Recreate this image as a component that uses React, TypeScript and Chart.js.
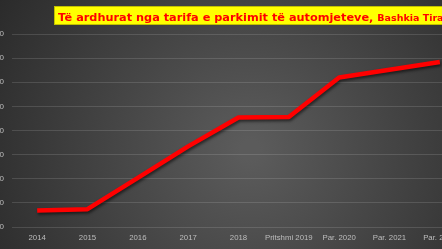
import React, { useEffect, useRef } from "react";
import { Chart, registerables } from "chart.js";

Chart.register(...registerables);

const categories = ["2014", "2015", "2016", "2017", "2018", "Pritshmi 2019", "Par. 2020", "Par. 2021", "Par. 2022"];
const revenue = [34, 37, 102, 167, 227, 228, 310, 326, 342];
const yMin = 0;
const yMax = 400;
const yStep = 50;
const titleMain = "Të ardhurat nga tarifa e parkimit të automjeteve, ";
const titleSub = "Bashkia Tirana";

const SHIFT = 40; // canvas is shifted left so the axis labels are cut off like the reference
const CW = 520;
const CH = 249;

const bgPlugin = {
  id: "bg",
  beforeDraw(chart: any) {
    const ctx = chart.ctx;
    ctx.save();
    const cx = 250 + SHIFT;
    const cy = 150;
    const g = ctx.createRadialGradient(cx, cy, 10, cx, cy, 320);
    g.addColorStop(0, "#5b5b5b");
    g.addColorStop(1, "#262626");
    ctx.fillStyle = g;
    ctx.fillRect(0, 0, chart.width, chart.height);
    ctx.restore();
  },
};

const shadowPlugin = {
  id: "lineShadow",
  beforeDatasetDraw(chart: any) {
    const ctx = chart.ctx;
    ctx.save();
    ctx.shadowColor = "rgba(0,0,0,0.55)";
    ctx.shadowBlur = 3;
    ctx.shadowOffsetX = 1;
    ctx.shadowOffsetY = 2;
  },
  afterDatasetDraw(chart: any) {
    chart.ctx.restore();
  },
};

const titlePlugin = {
  id: "boxTitle",
  afterDraw(chart: any) {
    const ctx = chart.ctx;
    ctx.save();
    const x0 = 54 + SHIFT;
    ctx.fillStyle = "#ffff00";
    ctx.fillRect(x0, 6, chart.width - x0, 19);
    ctx.strokeStyle = "#c0c000";
    ctx.lineWidth = 1;
    ctx.strokeRect(x0 + 0.5, 6.5, chart.width - x0, 18);
    ctx.fillStyle = "#ff0000";
    ctx.textBaseline = "alphabetic";
    ctx.font = "bold 11.3px 'DejaVu Sans'";
    ctx.fillText(titleMain, x0 + 4, 20.5);
    const w = ctx.measureText(titleMain).width;
    ctx.font = "bold 9.5px 'DejaVu Sans'";
    ctx.fillText(titleSub, x0 + 4 + w, 20.5);
    ctx.restore();
  },
};

export default function App() {
  const ref = useRef<HTMLCanvasElement | null>(null);
  useEffect(() => {
    if (!ref.current) return;
    const chart = new Chart(ref.current, {
      type: "line",
      data: {
        labels: categories,
        datasets: [
          {
            data: revenue,
            borderColor: "#ff0000",
            borderWidth: 4.5,
            pointRadius: 0,
            tension: 0,
            fill: false,
            borderJoinStyle: "round",
          },
        ],
      },
      options: {
        responsive: false,
        animation: false,
        layout: { padding: { top: 34, right: 15, bottom: 0, left: 0 } },
        plugins: { legend: { display: false }, tooltip: { enabled: false }, title: { display: false } },
        scales: {
          x: {
            offset: true,
            grid: { display: false, drawTicks: false },
            border: { display: false },
            ticks: {
              color: "#bdbdbd",
              padding: 6,
              maxRotation: 0,
              autoSkip: false,
              font: { family: "'Liberation Sans'", size: 7.8 },
            },
            afterFit(scale: any) {
              scale.height = 22;
            },
          },
          y: {
            min: yMin,
            max: yMax,
            ticks: {
              stepSize: yStep,
              color: "#bdbdbd",
              padding: 8,
              font: { family: "'Liberation Sans'", size: 8 },
            },
            grid: { color: "rgba(255,255,255,0.13)", lineWidth: 1, drawTicks: false },
            border: { display: false },
            afterFit(scale: any) {
              scale.width = 52;
            },
          },
        },
      },
      plugins: [bgPlugin, shadowPlugin, titlePlugin],
    });
    return () => chart.destroy();
  }, []);
  return (
    <div style={{ position: "fixed", left: 0, top: 0, width: 442, height: 249, overflow: "hidden", background: "#333" }}>
      <canvas ref={ref} width={CW} height={CH} style={{ position: "absolute", left: -SHIFT, top: 0, width: CW, height: CH }} />
    </div>
  );
}
